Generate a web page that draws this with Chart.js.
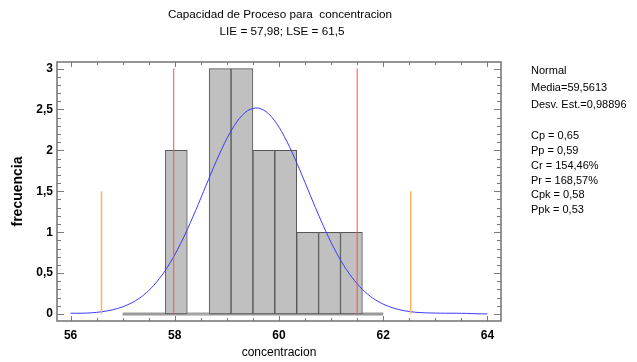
<!DOCTYPE html>
<html>
<head>
<meta charset="utf-8">
<script src="https://cdn.jsdelivr.net/npm/chart.js@4/dist/chart.umd.min.js"></script>
<style>
  html, body { margin: 0; padding: 0; background: #ffffff; }
  canvas { display: block; }
</style>
</head>
<body>
<canvas id="c" width="637" height="362"></canvas>
<script>
// ---- data ----
const titleLines = ['Capacidad de Proceso para  concentracion', 'LIE = 57,98; LSE = 61,5'];
const statsLines = ['Normal', 'Media=59,5613', 'Desv. Est.=0,98896', '', 'Cp = 0,65', 'Pp = 0,59', 'Cr = 154,46%', 'Pr = 168,57%', 'Cpk = 0,58', 'Ppk = 0,53'];
const binCenters = [58.03, 58.45, 58.87, 59.29, 59.71, 60.13, 60.55, 60.97, 61.39];
const binCounts  = [2, 0, 3, 3, 2, 2, 1, 1, 1];
const curveX = [56.0, 56.2, 56.4, 56.6, 56.8, 57.0, 57.2, 57.4, 57.6, 57.8, 58.0, 58.2, 58.4, 58.6, 58.8, 59.0, 59.2, 59.4, 59.6, 59.8, 60.0, 60.2, 60.4, 60.6, 60.8, 61.0, 61.2, 61.4, 61.6, 61.8, 62.0, 62.2, 62.4, 62.6, 62.8, 63.0, 63.2, 63.4, 63.6, 63.8, 64.0];
const curveY = [0.01, 0.01, 0.015, 0.028, 0.051, 0.088, 0.146, 0.231, 0.353, 0.516, 0.725, 0.977, 1.265, 1.571, 1.874, 2.145, 2.357, 2.487, 2.518, 2.448, 2.284, 2.046, 1.759, 1.452, 1.150, 0.875, 0.639, 0.448, 0.301, 0.194, 0.121, 0.072, 0.041, 0.023, 0.015, 0.012, 0.01, 0.01, 0.008, 0.003, 0.002];
const specLimits = [57.98, 61.5];          // LIE, LSE (red)
const specTop = 3;
const sigmaLimits = [56.594, 62.528];      // mean -/+ 3 sd (orange)
const sigmaTop = 1.5;
const baseRange = [57, 62];                // grey base line at 0
const xTickLabels = [56, 58, 60, 62, 64];
const yTickLabels = [0, 0.5, 1, 1.5, 2, 2.5, 3];
const xRange = [55.74, 64.26];
const yRange = [-0.085, 3.08];

Chart.defaults.font.family = "'Liberation Sans', Arial, sans-serif";
Chart.defaults.color = '#000000';

const vLine = (xv, top, color, width) => ({
  type: 'line',
  data: [{ x: xv, y: 0 }, { x: xv, y: top }],
  borderColor: color, borderWidth: width, pointRadius: 0, fill: false, order: 1
});

const framePlugin = {
  id: 'frameTicks',
  afterDatasetsDraw(chart) {
    const { ctx, chartArea: a, scales: { x, y } } = chart;
    ctx.save();
    ctx.strokeStyle = '#7a7a7a';
    ctx.lineWidth = 1;
    const seg = (x1, y1, x2, y2) => { ctx.beginPath(); ctx.moveTo(x1, y1); ctx.lineTo(x2, y2); ctx.stroke(); };
    for (let i = 0; i <= 16; i++) {
      const v = xTickLabels[0] + i * 0.5;
      const px = Math.round(x.getPixelForValue(v)) + 0.5;
      const L = (i % 4 === 0) ? 5 : 3;
      seg(px, a.bottom, px, a.bottom - L);
      seg(px, a.top, px, a.top + L);
    }
    for (let i = 0; i <= 30; i++) {
      const py = Math.round(y.getPixelForValue(i / 10)) + 0.5;
      const L = (i % 5 === 0) ? 7 : 4;
      seg(a.left, py, a.left + L, py);
      seg(a.right, py, a.right - L, py);
    }
    ctx.lineWidth = 1.6;
    ctx.strokeRect(a.left, a.top, a.right - a.left, a.bottom - a.top);
    ctx.restore();
  },
  afterDraw(chart) {
    const { ctx, chartArea: a } = chart;
    ctx.save();
    ctx.fillStyle = '#000000';
    ctx.textAlign = 'center';
    ctx.textBaseline = 'middle';
    ctx.font = "11.7px 'Liberation Sans', Arial, sans-serif";
    const cx = (a.left + a.right) / 2 + 1;
    ctx.fillText(titleLines[0], cx, 15);
    ctx.fillText(titleLines[1], cx + 2, 32);
    ctx.textAlign = 'left';
    ctx.textBaseline = 'alphabetic';
    ctx.font = "11px 'Liberation Sans', Arial, sans-serif";
    const ys = [74, 91, 107.5, 123, 138.5, 153.5, 168.5, 183.5, 198, 213];
    statsLines.forEach((t, i) => { if (t) ctx.fillText(t, 531, ys[i]); });
    ctx.restore();
  }
};

new Chart(document.getElementById('c'), {
  type: 'bar',
  data: {
    datasets: [
      {
        type: 'line',
        data: baseRange.map(v => ({ x: v, y: 0 })),
        borderColor: '#9a9a9a', borderWidth: 3, pointRadius: 0, order: 6
      },
      {
        type: 'bar',
        data: binCenters.map((c, i) => ({ x: c, y: binCounts[i] })),
        backgroundColor: '#c0c0c0',
        borderColor: '#555555',
        borderWidth: ctx => (binCounts[ctx.dataIndex] ? 1 : 0),
        borderSkipped: false,
        barPercentage: 1, categoryPercentage: 1,
        order: 5
      },
      {
        type: 'line',
        data: curveX.map((v, i) => ({ x: v, y: curveY[i] })),
        borderColor: '#3a3aff', borderWidth: 1, pointRadius: 0, tension: 0.3, fill: false, order: 2
      },
      vLine(specLimits[0], specTop, '#ff4d4d', 1),
      vLine(specLimits[1], specTop, '#ff4d4d', 1),
      vLine(sigmaLimits[0], sigmaTop, '#ffb35c', 1.5),
      vLine(sigmaLimits[1], sigmaTop, '#ffb35c', 1.5)
    ]
  },
  options: {
    responsive: false,
    animation: false,
    layout: { padding: { top: 62, right: 136, left: 0, bottom: 0 } },
    plugins: { legend: { display: false }, tooltip: { enabled: false }, title: { display: false } },
    scales: {
      x: {
        type: 'linear',
        min: xRange[0], max: xRange[1],
        offset: false,
        grid: { display: false, drawTicks: false, offset: false },
        border: { display: false },
        afterBuildTicks: s => { s.ticks = xTickLabels.map(v => ({ value: v })); },
        afterFit: s => { s.height = 41; },
        ticks: {
          padding: 7,
          maxRotation: 0,
          autoSkip: false,
          font: { size: 12, weight: 'bold' },
          callback: v => String(v)
        },
        title: {
          display: true, text: 'concentracion',
          font: { size: 12 }, padding: { top: 0, bottom: 2 }
        }
      },
      y: {
        type: 'linear',
        min: yRange[0], max: yRange[1],
        grid: { display: false, drawTicks: false },
        border: { display: false },
        afterBuildTicks: s => { s.ticks = yTickLabels.map(v => ({ value: v })); },
        afterFit: s => { s.width = 57; },
        ticks: {
          padding: 4,
          autoSkip: false,
          font: { size: 12, weight: 'bold' },
          callback: v => String(v).replace('.', ',')
        },
        title: {
          display: true, text: 'frecuencia',
          font: { size: 14, weight: 'bold' }, padding: { top: 10, bottom: 0 }
        }
      }
    }
  },
  plugins: [framePlugin]
});
</script>
</body>
</html>
